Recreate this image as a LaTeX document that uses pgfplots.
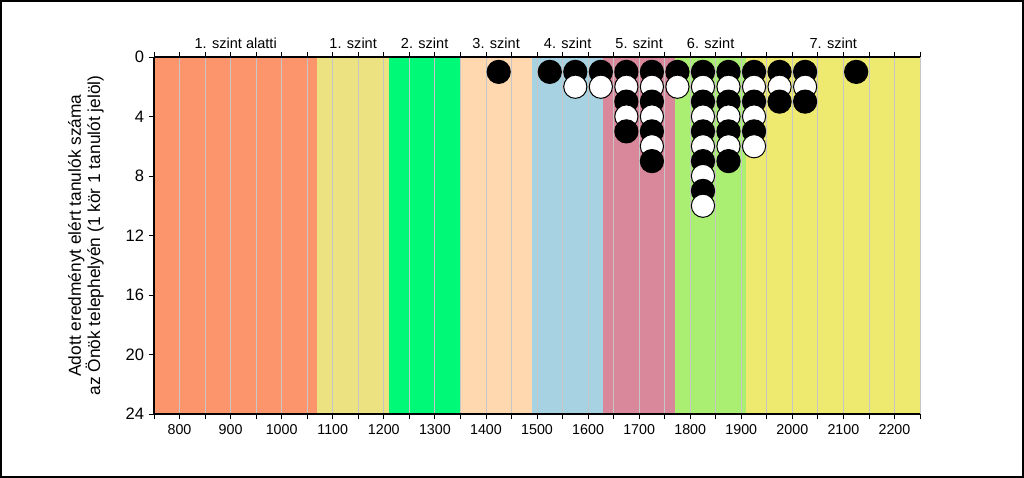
\documentclass[border=0pt]{standalone}
\usepackage{pgfplots}
\pgfplotsset{compat=1.18}
\usepackage{fontspec}
\setmainfont{Liberation Sans}
\definecolor{b0}{RGB}{252,148,108}
\definecolor{b1}{RGB}{237,226,130}
\definecolor{b2}{RGB}{0,250,120}
\definecolor{b3}{RGB}{255,216,176}
\definecolor{b4}{RGB}{166,210,225}
\definecolor{b5}{RGB}{216,136,154}
\definecolor{b6}{RGB}{170,238,114}
\definecolor{b7}{RGB}{238,234,112}
\begin{document}
\begin{tikzpicture}
\draw[line width=1.5pt] (0.75pt,0.75pt) rectangle (767.25pt,357.75pt);
\begin{axis}[
  at={(115.5pt,48pt)}, anchor=south west,
  scale only axis, width=574.5pt, height=267.75pt,
  set layers,
  xmin=750, xmax=2250, ymin=0, ymax=24, y dir=reverse,
  axis x line*=box, axis y line*=left,
  xtick={800,900,...,2200}, minor xtick={750,850,...,2250},
  ytick={0,4,...,24},
  xtick pos=both, ytick pos=left, xticklabel pos=bottom,
  tick align=outside,
  xmajorgrids, xminorgrids,
  major grid style={gray!45, line width=0.6pt},
  minor grid style={gray!45, line width=0.6pt},
  major tick length=4pt, minor tick length=4pt,
  tick style={black, line width=0.6pt},
  axis line style={black, line width=0.8pt},
  clip=false,
  /pgf/number format/assume math mode=true,
  /pgf/number format/1000 sep={},
  x tick label style={font=\fontsize{10.7}{12}\selectfont},
  y tick label style={font=\fontsize{12.4}{14}\selectfont},
  ylabel={Adott eredményt elért tanulók száma\\az Önök telephelyén (1 kör 1 tanulót jelöl)},
  ylabel style={align=center, font=\fontsize{13}{14.5}\selectfont, at={(axis description cs:-0.0888,0.5)}, anchor=center},
]
% level bands
\addplot[draw=none, fill=b0, on layer=axis background] coordinates {(750,0)(1070,0)(1070,24)(750,24)} -- cycle;
\addplot[draw=none, fill=b1, on layer=axis background] coordinates {(1070,0)(1210,0)(1210,24)(1070,24)} -- cycle;
\addplot[draw=none, fill=b2, on layer=axis background] coordinates {(1210,0)(1350,0)(1350,24)(1210,24)} -- cycle;
\addplot[draw=none, fill=b3, on layer=axis background] coordinates {(1350,0)(1490,0)(1490,24)(1350,24)} -- cycle;
\addplot[draw=none, fill=b4, on layer=axis background] coordinates {(1490,0)(1630,0)(1630,24)(1490,24)} -- cycle;
\addplot[draw=none, fill=b5, on layer=axis background] coordinates {(1630,0)(1770,0)(1770,24)(1630,24)} -- cycle;
\addplot[draw=none, fill=b6, on layer=axis background] coordinates {(1770,0)(1910,0)(1910,24)(1770,24)} -- cycle;
\addplot[draw=none, fill=b7, on layer=axis background] coordinates {(1910,0)(2250,0)(2250,24)(1910,24)} -- cycle;
% circles, row by row
\pgfplotsset{
  blk/.style={only marks, mark=*, mark size=8.7pt, mark options={fill=black, draw=black, line width=0.75pt}},
  wht/.style={only marks, mark=*, mark size=8.7pt, mark options={fill=white, draw=black, line width=0.75pt}},
}
\addplot[blk] coordinates {(1425,1)(1525,1)(1575,1)(1625,1)(1675,1)(1725,1)(1775,1)(1825,1)(1875,1)(1925,1)(1975,1)(2025,1)(2125,1)};
\addplot[wht] coordinates {(1575,2)(1625,2)(1675,2)(1725,2)(1775,2)(1825,2)(1875,2)(1925,2)(1975,2)(2025,2)};
\addplot[blk] coordinates {(1675,3)(1725,3)(1825,3)(1875,3)(1925,3)(1975,3)(2025,3)};
\addplot[wht] coordinates {(1675,4)(1725,4)(1825,4)(1875,4)(1925,4)};
\addplot[blk] coordinates {(1675,5)(1725,5)(1825,5)(1875,5)(1925,5)};
\addplot[wht] coordinates {(1725,6)(1825,6)(1875,6)(1925,6)};
\addplot[blk] coordinates {(1725,7)(1825,7)(1875,7)};
\addplot[wht] coordinates {(1825,8)};
\addplot[blk] coordinates {(1825,9)};
\addplot[wht] coordinates {(1825,10)};
% level names above the plot
\begin{scope}[every node/.style={anchor=base, yshift=6.5pt, font=\fontsize{10.9}{12}\selectfont}]
\node at (axis cs:910,0) {1. szint alatti};
\node at (axis cs:1140,0) {1. szint};
\node at (axis cs:1280,0) {2. szint};
\node at (axis cs:1420,0) {3. szint};
\node at (axis cs:1560,0) {4. szint};
\node at (axis cs:1700,0) {5. szint};
\node at (axis cs:1840,0) {6. szint};
\node at (axis cs:2080,0) {7. szint};
\end{scope}
\end{axis}
\end{tikzpicture}
\end{document}
